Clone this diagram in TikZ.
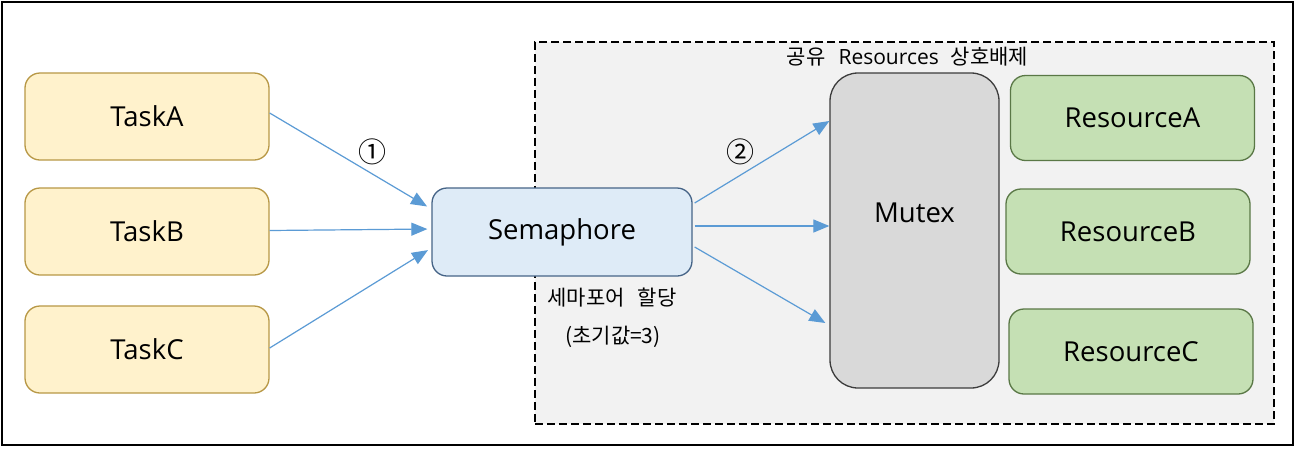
\documentclass[tikz,border=0pt]{standalone}
\usepackage{fontspec}
\setmainfont{Open Sans}
\newfontfamily\kr{Noto Sans CJK KR}
\usetikzlibrary{arrows.meta}
\definecolor{taskfill}{RGB}{255,242,204}
\definecolor{taskdraw}{RGB}{184,152,70}
\definecolor{semfill}{RGB}{222,235,247}
\definecolor{semdraw}{RGB}{70,100,135}
\definecolor{mutfill}{RGB}{217,217,217}
\definecolor{mutdraw}{RGB}{60,60,60}
\definecolor{resfill}{RGB}{197,224,180}
\definecolor{resdraw}{RGB}{90,120,70}
\definecolor{grpfill}{RGB}{242,242,242}
\definecolor{arr}{RGB}{91,155,213}
\begin{document}
\begin{tikzpicture}[x=1pt,y=-1pt,
  box/.style={rectangle, rounded corners=15pt, line width=1.3pt, inner sep=0pt,
    font=\fontsize{27.5}{33}\selectfont},
  taskbox/.style={box, fill=taskfill, draw=taskdraw, minimum width=244pt, minimum height=87pt},
  sembox/.style={box, fill=semfill, draw=semdraw, minimum width=260pt, minimum height=88pt},
  resbox/.style={box, fill=resfill, draw=resdraw, minimum width=244pt, minimum height=85pt},
  mutbox/.style={box, rounded corners=28pt, fill=mutfill, draw=mutdraw, minimum width=169pt, minimum height=315pt},
  grpbox/.style={rectangle, fill=grpfill, draw=black, line width=1.2pt, dash pattern=on 8pt off 4pt, inner sep=0pt},
  lbl/.style={inner sep=0pt, font=\fontsize{21}{25}\selectfont\kr},
  numlbl/.style={inner sep=0pt, font=\fontsize{28}{32}\selectfont\kr},
  conn/.style={draw=arr, line width=1.2pt, -{Triangle[length=16pt,width=13pt]}}
]
\useasboundingbox (0,0) rectangle (1295,448);
\fill[white] (0,0) rectangle (1295,448);
\draw[line width=1.5pt] (2,2) rectangle (1293,445);

\node[grpbox, minimum width=739pt, minimum height=382pt] (grp) at (904.5,233) {};
\node[inner sep=0pt, font=\fontsize{21}{25}\selectfont] (ttl) at (907.5,57) {{\kr 공유}\hspace{13pt}Resources\hspace{12pt}{\kr 상호배제}};

\node[taskbox] (taskA) at (147,116.5) {TaskA};
\node[taskbox] (taskB) at (147,231.5) {TaskB};
\node[taskbox] (taskC) at (147,349.5) {TaskC};

\node[sembox] (sem) at (562,232) {Semaphore};

\node[mutbox, label={[inner sep=0pt, yshift=17.5pt, font=\fontsize{27.5}{33}\selectfont]center:Mutex}] (mutex) at (914.5,230.5) {};

\node[resbox] (resA) at (1132.5,118) {ResourceA};
\node[resbox] (resB) at (1128,231.5) {ResourceB};
\node[resbox] (resC) at (1131,351.5) {ResourceC};

\node[numlbl] (n1) at (372,152) {①};
\node[numlbl] (n2) at (740,152) {②};
\node[lbl] (s1) at (612,298) {세마포어\hspace{13pt}할당};
\node[lbl] (s2) at (613,337) {(초기값=3)};

\draw[conn, shorten >=5pt] ([yshift=3.5pt]taskA.east) -- ([yshift=23pt]sem.west);
\draw[conn, shorten >=4pt] ([yshift=1pt]taskB.east) -- ([yshift=3pt]sem.west);
\draw[conn, shorten >=4pt] ([yshift=1.5pt]taskC.east) -- ([yshift=-16pt]sem.west);

\draw[conn] ([yshift=29pt,xshift=2pt]sem.east) -- ([yshift=109.5pt]mutex.west);
\draw[conn] ([yshift=6pt,xshift=2pt]sem.east) -- ([yshift=4.5pt]mutex.west);
\draw[conn] ([yshift=-15pt,xshift=2pt]sem.east) -- ([yshift=-92.5pt,xshift=-4pt]mutex.west);
\end{tikzpicture}
\end{document}
